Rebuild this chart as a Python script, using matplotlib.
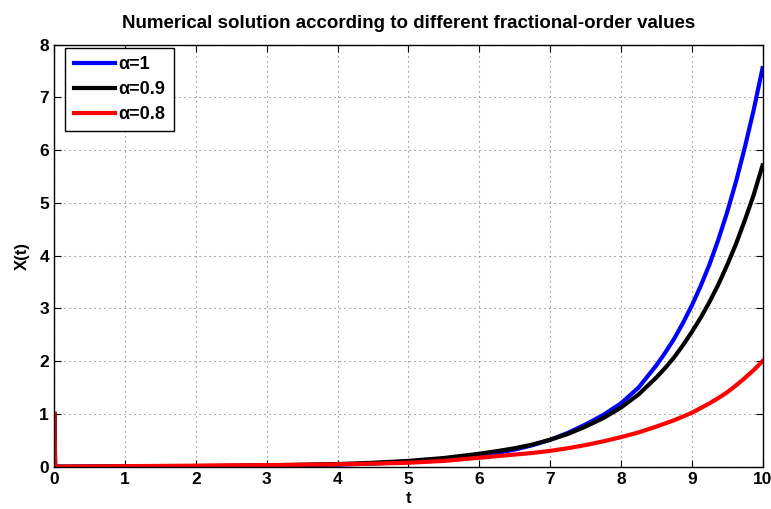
import matplotlib
matplotlib.use("Agg")
import matplotlib.pyplot as plt

plt.rcParams['font.family'] = ['Liberation Sans', 'DejaVu Sans']
plt.rcParams['font.weight'] = 'bold'

# solution values read at the sample times
t = [0, 0.01, 1, 2, 3, 4, 4.5, 5, 5.5, 6, 6.25, 6.5, 6.75, 7, 7.25, 7.5, 7.75,
     8, 8.25, 8.5, 8.625, 8.75, 8.875, 9, 9.125, 9.25, 9.375, 9.5, 9.625, 9.75, 9.875, 10]
x_a10 = [1, 0.0, 0.003, 0.008, 0.02, 0.04, 0.06, 0.09, 0.135, 0.207, 0.26, 0.325, 0.407,
         0.51, 0.64, 0.80, 0.98, 1.20, 1.50, 1.92, 2.16, 2.42, 2.72, 3.05, 3.42, 3.83,
         4.30, 4.82, 5.40, 6.05, 6.76, 7.55]
x_a09 = [1, 0.0, 0.005, 0.012, 0.025, 0.05, 0.075, 0.11, 0.165, 0.245, 0.295, 0.35, 0.42,
         0.51, 0.62, 0.76, 0.92, 1.12, 1.37, 1.69, 1.87, 2.07, 2.30, 2.55, 2.82, 3.12,
         3.45, 3.82, 4.22, 4.67, 5.15, 5.71]
x_a08 = [1, 0.0, 0.01, 0.02, 0.03, 0.045, 0.058, 0.075, 0.11, 0.17, 0.20, 0.23, 0.26,
         0.30, 0.35, 0.41, 0.48, 0.56, 0.65, 0.76, 0.82, 0.88, 0.95, 1.02, 1.11, 1.20,
         1.30, 1.41, 1.54, 1.68, 1.83, 2.00]

labels = ['α=1', 'α=0.9', 'α=0.8']
colors = ['#0000ff', '#000000', '#ff0000']

fig = plt.figure(figsize=(7.71, 5.09), dpi=100)
ax = fig.add_axes([0.0706, 0.0831, 0.9184, 0.8293])

for y, lab, c in zip([x_a10, x_a09, x_a08], labels, colors):
    ax.plot(t, y, color=c, lw=3, label=lab, solid_joinstyle='round')

ax.set_xlim(0, 10)
ax.set_ylim(0, 8)
ax.set_xticks(range(0, 11))
ax.set_yticks(range(0, 9))
ax.tick_params(direction='in', top=True, right=True, labelsize=12.5, length=5, width=0.8, pad=4)
for lab in ax.get_xticklabels() + ax.get_yticklabels():
    lab.set_fontweight('bold')
ax.grid(True, color='0.45', linestyle=(0, (1, 3.5)), lw=0.8)
for s in ax.spines.values():
    s.set_linewidth(1.0)
    s.set_color('black')

ax.set_title('Numerical solution according to different fractional-order values',
             fontsize=13.5, fontweight='bold', pad=12)
ax.set_xlabel('t', fontsize=12, fontweight='bold', labelpad=3)
ax.set_ylabel('X(t)', fontsize=12, fontweight='bold', labelpad=7)

leg = ax.legend(loc='upper left', bbox_to_anchor=(0.0155, 0.992), borderaxespad=0,
                fontsize=13, fancybox=False, framealpha=1, edgecolor='black',
                handlelength=2.3, borderpad=0.45, labelspacing=0.45,
                handletextpad=0.2)
leg.get_frame().set_linewidth(1.0)

fig.savefig('out.png', dpi=100)
